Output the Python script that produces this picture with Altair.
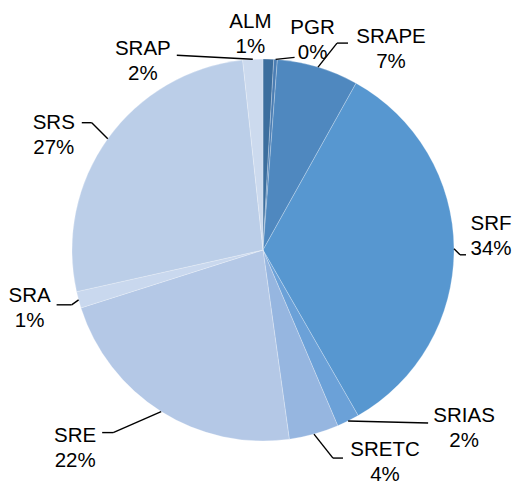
import math
import altair as alt
import pandas as pd

# ---- data ----
categories = ["ALM", "PGR", "SRAPE", "SRF", "SRIAS", "SRETC", "SRE", "SRA", "SRS", "SRAP"]
shares = [0.9, 0.3, 6.9, 33.6, 1.9, 4.2, 22.3, 1.4, 26.8, 1.7]

# ---- style ----
colors = ["#3C6E9E", "#4A7DB3", "#4F88BF", "#5797D0", "#6BA1D8",
          "#96B6E0", "#B4C8E6", "#C9D8EE", "#BBCEE8", "#CCDAEE"]
W, H = 504, 474
CX, CY, R = 255, 242, 191
FONT = "Liberation Sans"
FS = 20.5
LINE = 12.5

# label layout: offset of label block centre from the slice's outer mid-point
label_offset = {
    "ALM": (-18, -25), "PGR": (37, -19), "SRAPE": (73, -18), "SRF": (37, -12),
    "SRIAS": (116, 8), "SRETC": (71, 28), "SRE": (-86, 37), "SRA": (-49, 9),
    "SRS": (-54, -3), "SRAP": (-110, 2),
}
# leader line vertices (offsets from the slice's outer mid-point)
leader_path = {
    "PGR": [(19, -2)],
    "SRAPE": [(19, -24), (30, -24)],
    "SRF": [(6, 6), (12, 6)],
    "SRIAS": [(80, 2)],
    "SRETC": [(19, 24), (29, 24)],
    "SRE": [(-48, 21), (-59, 21)],
    "SRA": [(-7, 5), (-22, 5)],
    "SRS": [(-16, -16), (-26, -16)],
    "SRAP": [(-76, -4)],
}

total = sum(shares)
rows, segs = [], []
cum = 0.0
for i, (c, v) in enumerate(zip(categories, shares)):
    mid = (cum + v / 2) / total * 2 * math.pi
    cum += v
    ex = CX + R * math.sin(mid)
    ey = CY - R * math.cos(mid)
    ox, oy = label_offset[c]
    rows.append({"cat": c, "value": v, "idx": i, "pct": f"{round(v):.0f}%",
                 "lx": ex + ox, "ly1": ey + oy - LINE, "ly2": ey + oy + LINE})
    px, py = ex, ey
    for dx, dy in leader_path.get(c, []):
        nx, ny = ex + dx, ey + dy
        segs.append({"x": px, "y": py, "x2": nx, "y2": ny})
        px, py = nx, ny

df = pd.DataFrame(rows)
seg_df = pd.DataFrame(segs)

pie = alt.Chart(df).mark_arc(radius=R, stroke="white", strokeWidth=0.25).encode(
    theta=alt.Theta("value:Q", stack=True),
    order=alt.Order("idx:Q"),
    color=alt.Color("cat:N", scale=alt.Scale(domain=categories, range=colors), legend=None),
    x=alt.value(CX),
    y=alt.value(CY),
)

leaders = alt.Chart(seg_df).mark_rule(color="black", strokeWidth=1.4).encode(
    x=alt.X("x:Q", scale=None), y=alt.Y("y:Q", scale=None),
    x2="x2:Q", y2="y2:Q",
)

names = alt.Chart(df).mark_text(font=FONT, fontSize=FS, color="black",
                                align="center", baseline="middle").encode(
    x=alt.X("lx:Q", scale=None), y=alt.Y("ly1:Q", scale=None), text="cat:N")

pcts = alt.Chart(df).mark_text(font=FONT, fontSize=FS, color="black",
                               align="center", baseline="middle").encode(
    x=alt.X("lx:Q", scale=None), y=alt.Y("ly2:Q", scale=None), text="pct:N")

chart = alt.layer(pie, leaders, names, pcts).properties(
    width=W, height=H, padding=0, autosize=alt.AutoSizeParams(type="none"),
    background="white",
).configure_view(stroke=None)

chart.save("out.html", embed_options={"renderer": "svg", "actions": False})
